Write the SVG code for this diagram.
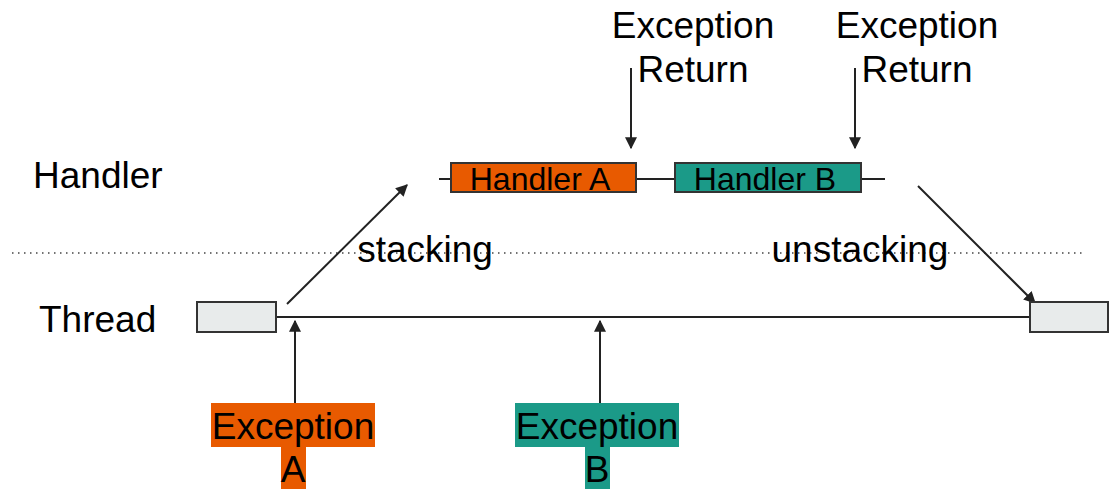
<svg xmlns="http://www.w3.org/2000/svg" width="1113" height="489" viewBox="0 0 1113 489">
  <style>
    text { font-family: "Liberation Sans", Arial, sans-serif; fill: #000; }
    .big { font-size: 37px; }
    .lbl { font-size: 32px; }
    .mid { text-anchor: middle; }
    .line { stroke: #222; stroke-width: 2; fill: none; }
    .arrow { stroke: #222; stroke-width: 2; fill: none; marker-end: url(#ah); }
    .thread { fill: #E8EBEB; stroke: #333; stroke-width: 2; }
    .hA { fill: #E85A00; stroke: #333; stroke-width: 2; }
    .hB { fill: #1B9A88; stroke: #333; stroke-width: 2; }
  </style>
  <defs>
    <marker id="ah" viewBox="0 0 10 10" refX="9" refY="5" markerWidth="6" markerHeight="6" orient="auto" markerUnits="strokeWidth">
      <path d="M0,0 L10,5 L0,10 z" fill="#222"/>
    </marker>
  </defs>

  <rect width="1113" height="489" fill="#fff"/>

  <!-- level labels -->
  <text id="lbl-handler" class="big" x="33" y="188">Handler</text>
  <text id="lbl-thread" class="big" x="39" y="332">Thread</text>

  <!-- separator between levels -->
  <line x1="12" y1="253" x2="1082" y2="253" stroke="#444" stroke-width="1.5" stroke-dasharray="1.5 4.5"/>

  <g id="connectors">
    <!-- handler-level timeline -->
    <line class="line" x1="439" y1="179" x2="451" y2="179"/>
    <line class="line" x1="636" y1="179" x2="675" y2="179"/>
    <line class="line" x1="861" y1="179" x2="885" y2="179"/>
    <!-- thread-level timeline -->
    <line class="line" x1="276" y1="317" x2="1030" y2="317"/>
    <!-- stacking / unstacking -->
    <line class="arrow" x1="287" y1="304" x2="407" y2="185"/>
    <line class="arrow" x1="918" y1="186" x2="1035" y2="303"/>
    <!-- exception entries -->
    <line class="arrow" x1="295" y1="403" x2="295" y2="321"/>
    <line class="arrow" x1="600" y1="403" x2="600" y2="321"/>
    <!-- exception returns -->
    <line class="arrow" x1="631" y1="68" x2="631" y2="148"/>
    <line class="arrow" x1="855" y1="68" x2="855" y2="148"/>
  </g>

  <text class="big mid" x="425" y="262">stacking</text>
  <text class="big mid" x="860" y="262">unstacking</text>

  <g id="thread-start">
    <rect class="thread" x="197" y="302" width="79" height="30"/>
  </g>
  <g id="thread-end">
    <rect class="thread" x="1030" y="302" width="78" height="30"/>
  </g>

  <g id="handler-a">
    <rect class="hA" x="451" y="163" width="185" height="29"/>
    <text class="lbl mid" x="540" y="190">Handler A</text>
  </g>
  <g id="handler-b">
    <rect class="hB" x="675" y="163" width="186" height="29"/>
    <text class="lbl mid" x="765" y="190">Handler B</text>
  </g>

  <g id="return-a">
    <text class="big mid" x="693" y="38">Exception</text>
    <text class="big mid" x="693" y="82">Return</text>
  </g>
  <g id="return-b">
    <text class="big mid" x="917" y="38">Exception</text>
    <text class="big mid" x="917" y="82">Return</text>
  </g>

  <g id="exception-a">
    <rect x="211" y="403" width="164" height="44" fill="#E85A00"/>
    <rect x="281" y="446" width="25" height="43" fill="#E85A00"/>
    <text class="big mid" x="293" y="439">Exception</text>
    <text class="big mid" x="293" y="482">A</text>
  </g>
  <g id="exception-b">
    <rect x="515" y="403" width="164" height="44" fill="#1B9A88"/>
    <rect x="585" y="446" width="25" height="43" fill="#1B9A88"/>
    <text class="big mid" x="597" y="439">Exception</text>
    <text class="big mid" x="597" y="482">B</text>
  </g>
</svg>
